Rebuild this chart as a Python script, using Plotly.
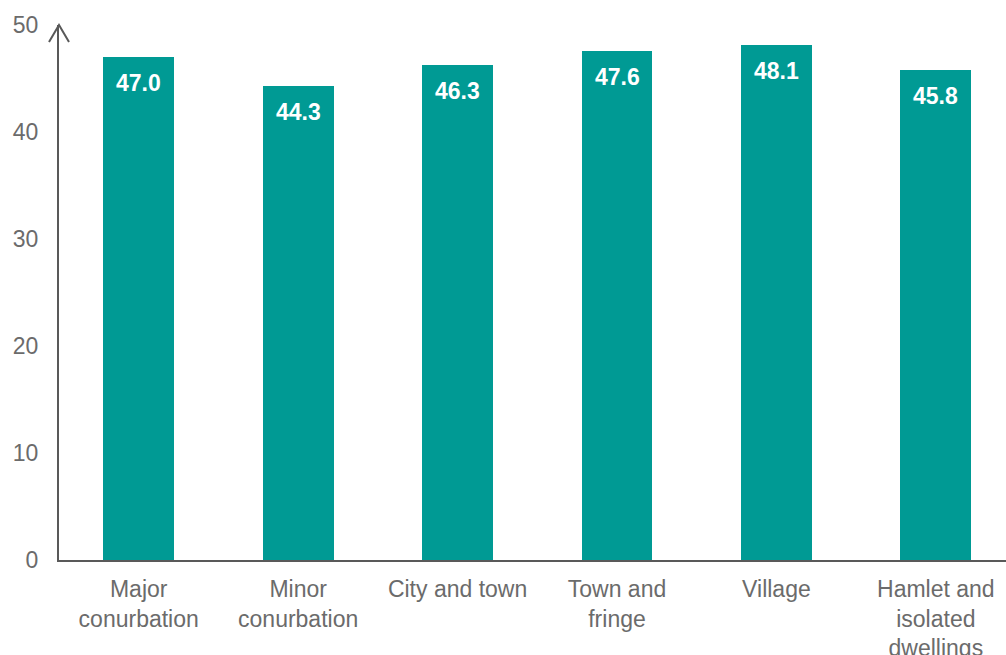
import plotly.graph_objects as go

# Categories and values
categories = ["Major<br>conurbation", "Minor<br>conurbation", "City and town",
              "Town and<br>fringe", "Village", "Hamlet and<br>isolated<br>dwellings"]
values = [47.0, 44.3, 46.3, 47.6, 48.1, 45.8]
y_ticks = [0, 10, 20, 30, 40, 50]

BAR = "#009a94"
GREY_TEXT = "#6b6b6b"
AXIS = "#595959"
FONT = "Liberation Sans, Arial, sans-serif"
FS = 23

W, H = 1006, 655
L, R, T, B = 59, 0, 25, 95

fig = go.Figure()
fig.add_trace(go.Bar(
    x=list(range(len(categories))),
    y=values,
    width=0.445,
    marker=dict(color=BAR, line=dict(width=0)),
    hoverinfo="skip",
))

# value labels inside the top of each bar
for i, v in enumerate(values):
    fig.add_annotation(
        x=i, y=v, xref="x", yref="y",
        text=f"<b>{v:.1f}</b>", showarrow=False,
        yanchor="top", yshift=-11,
        font=dict(family=FONT, size=FS, color="white"),
    )

# arrowhead on the value axis
pw, ph = W - L - R, H - T - B
def px(dx):
    return dx / pw
def py(dy):
    return dy / ph
fig.add_shape(
    type="path", xref="paper", yref="paper",
    path=f"M {px(-10)} {1 - py(17)} L 0 1 L {px(10)} {1 - py(17)}",
    line=dict(color=AXIS, width=2),
)

fig.update_layout(
    width=W, height=H,
    margin=dict(l=L, r=R, t=T, b=B),
    plot_bgcolor="white", paper_bgcolor="white",
    showlegend=False,
    bargap=0,
    xaxis=dict(
        range=[-0.5, 5.44],
        tickmode="array",
        tickvals=list(range(len(categories))),
        ticktext=categories,
        showline=True, linecolor=AXIS, linewidth=2,
        showgrid=False, zeroline=False, ticks="",
        ticklabelstandoff=7,
        automargin=False,
        tickfont=dict(family=FONT, size=FS, color=GREY_TEXT),
        fixedrange=True,
    ),
    yaxis=dict(
        range=[0, 50],
        tickmode="array", tickvals=y_ticks,
        showline=True, linecolor=AXIS, linewidth=2,
        showgrid=False, zeroline=False, ticks="",
        ticklabelstandoff=14,
        automargin=False,
        tickfont=dict(family=FONT, size=FS, color=GREY_TEXT),
        fixedrange=True,
    ),
)

fig.write_html("out.html")
